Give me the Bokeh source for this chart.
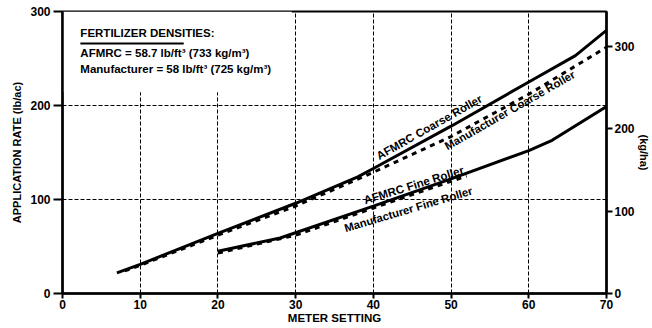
from bokeh.plotting import figure
from bokeh.models import Range1d, LinearAxis, FixedTicker, BoxAnnotation
from bokeh.core.properties import value
from bokeh.embed import file_html
from bokeh.resources import INLINE
import math

# ---- data ----
afmrc_coarse_x = [7, 10, 20, 30, 38, 40, 50, 60, 66, 70]
afmrc_coarse_y = [22, 31, 64, 96, 124, 133, 178, 225, 253, 280]
manuf_coarse_x = [8, 10, 20, 30, 40, 50, 60, 70]
manuf_coarse_y = [24, 30, 62, 93, 129, 167, 212, 262]
afmrc_fine_x = [20, 28, 40, 50, 60, 63, 70]
afmrc_fine_y = [45, 59, 93, 122, 152, 163, 199]
manuf_fine_x = [20, 30, 40, 52]
manuf_fine_y = [43, 62, 91, 125]

x_ticks = [0, 10, 20, 30, 40, 50, 60, 70]
y_ticks = [0, 100, 200, 300]
kg_ticks = [0, 100, 200, 300]
KG_SCALE = 1.14  # kg/ha per lb/ac as drawn on the right axis

legend_title = "FERTILIZER DENSITIES:"
legend_lines = ["AFMRC = 58.7 lb/ft\u00b3 (733 kg/m\u00b3)",
                "Manufacturer = 58 lb/ft\u00b3 (725 kg/m\u00b3)"]

curve_labels = ["AFMRC Coarse Roller", "Manufacturer Coarse Roller",
                "AFMRC Fine Roller", "Manufacturer Fine Roller"]
label_x = [40.5, 49.3, 38.8, 36.3]
label_y = [145.5, 156, 99, 69.2]
label_deg = [29.5, 29.7, 17.2, 16.6]
label_size = ["11.5px", "11.3px", "11.5px", "11.3px"]

FONT = "Liberation Sans"

p = figure(width=652, height=328, output_backend="svg", toolbar_location=None,
           x_range=Range1d(0, 70), y_range=Range1d(0, 300),
           min_border_left=62, min_border_right=46, min_border_top=11,
           min_border_bottom=35)
p.background_fill_color = "white"
p.outline_line_color = "black"
p.outline_line_width = 2

p.extra_y_ranges = {"kg": Range1d(0, 300 * KG_SCALE)}
right = LinearAxis(y_range_name="kg", ticker=FixedTicker(ticks=kg_ticks),
                   axis_label="(kg/ha)")
p.add_layout(right, "right")

p.xaxis.ticker = FixedTicker(ticks=x_ticks)
p.yaxis.ticker = FixedTicker(ticks=y_ticks)
p.xaxis.axis_label = "METER SETTING"
p.yaxis[0].axis_label = "APPLICATION RATE (lb/ac)"

for ax in p.axis:
    ax.axis_line_color = "black"
    ax.axis_line_width = 2.5
    ax.major_tick_line_color = "black"
    ax.major_tick_line_width = 2
    ax.major_tick_in = 0
    ax.minor_tick_line_color = None
    ax.major_label_text_font = FONT
    ax.major_label_text_font_style = "bold"
    ax.major_label_text_color = "black"
    ax.axis_label_text_font = FONT
    ax.axis_label_text_font_style = "bold"
    ax.axis_label_text_color = "black"

p.yaxis[0].major_tick_out = 9
p.yaxis[0].major_label_standoff = 3
p.yaxis[0].major_label_text_font_size = "12px"
p.yaxis[0].axis_label_text_font_size = "11px"
p.yaxis[0].axis_label_standoff = 4

p.xaxis.major_tick_out = 5
p.xaxis.major_label_standoff = 1
p.xaxis.major_label_text_font_size = "12px"
p.xaxis.axis_label_text_font_size = "11.5px"
p.xaxis.axis_label_standoff = 0

right.major_tick_out = 6
right.major_label_standoff = 2
right.major_label_text_font_size = "12px"
right.axis_label_text_font_size = "11px"
right.axis_label_standoff = 0

p.xgrid.grid_line_color = "black"
p.xgrid.grid_line_dash = "4 2"
p.xgrid.grid_line_width = 1
p.ygrid.grid_line_color = "black"
p.ygrid.grid_line_dash = "4 2"
p.ygrid.grid_line_width = 1

# white panel behind the densities note
p.add_layout(BoxAnnotation(left=0, right=29.5, bottom=214, top=300,
                           fill_color="white", fill_alpha=1.0,
                           line_color=None, level="underlay"))

# curves
p.line(manuf_coarse_x, manuf_coarse_y, line_color="black", line_width=3,
       line_dash="5 5")
p.line(manuf_fine_x, manuf_fine_y, line_color="black", line_width=3,
       line_dash="5 5")
p.line(afmrc_coarse_x, afmrc_coarse_y, line_color="black", line_width=3)
p.line(afmrc_fine_x, afmrc_fine_y, line_color="black", line_width=3)

# curve labels
for t, lx, ly, d, s in zip(curve_labels, label_x, label_y, label_deg, label_size):
    p.text(x=[lx], y=[ly], text=[t], angle=math.radians(d),
           text_font=value(FONT), text_font_size=s, text_font_style="bold",
           text_color="black", text_align="left", text_baseline="alphabetic")

# densities note
note_x = 2.3
p.text(x=[note_x], y=[277], text=[legend_title], text_font=value(FONT),
       text_font_size="11.5px", text_font_style="bold", text_color="black",
       text_align="left", text_baseline="alphabetic")
p.text(x=[note_x, note_x], y=[256, 239], text=legend_lines, text_font=value(FONT),
       text_font_size="11.5px", text_font_style="bold", text_color="black",
       text_align="left", text_baseline="alphabetic")
p.segment(x0=[note_x], y0=[266], x1=[15.6], y1=[266], line_color="black",
          line_width=2)

open("out.html", "w").write(file_html(p, INLINE))
